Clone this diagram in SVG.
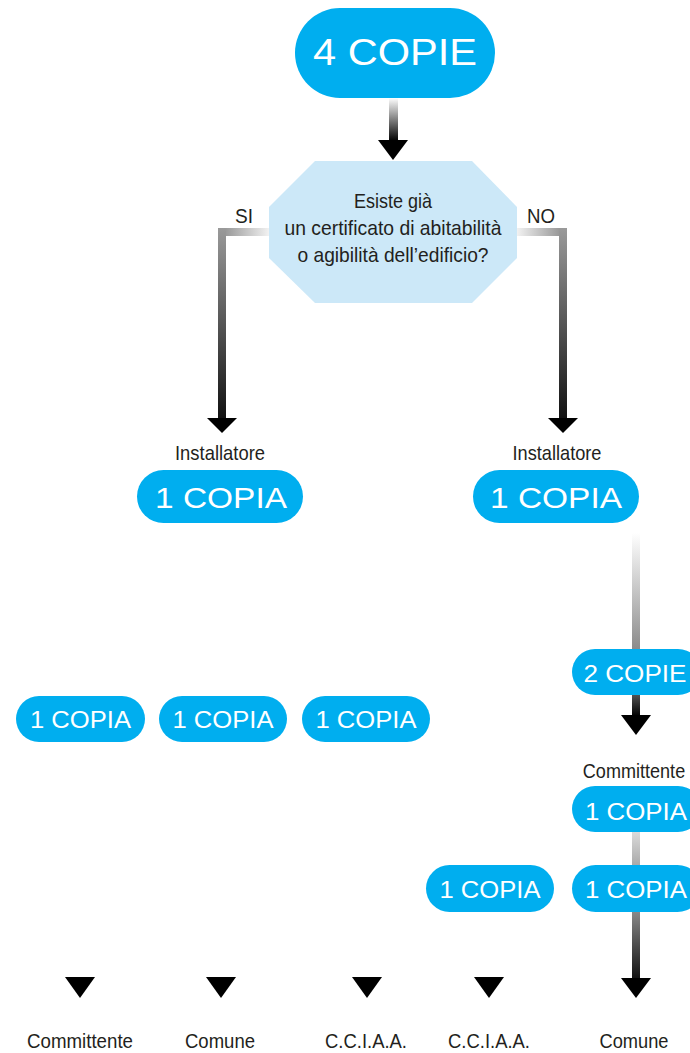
<svg xmlns="http://www.w3.org/2000/svg" width="690" height="1053" viewBox="0 0 690 1053">
<defs>
<style>
.pill{fill:#00aeef}
.pt{fill:#fff;font-family:"Liberation Sans",Arial,sans-serif;text-anchor:middle}
.lbl{fill:#231f20;font-family:"Liberation Sans",Arial,sans-serif;font-size:21px;text-anchor:middle}
.head{fill:#000}
</style>
<linearGradient id="gWB" x1="0" y1="0" x2="0" y2="1"><stop offset="0" stop-color="#fff"/><stop offset="1" stop-color="#000"/></linearGradient>
<linearGradient id="gGB" x1="0" y1="0" x2="0" y2="1"><stop offset="0" stop-color="#9a9a9a"/><stop offset="1" stop-color="#111"/></linearGradient>
<linearGradient id="gHL" x1="0" y1="0" x2="1" y2="0"><stop offset="0" stop-color="#9a9a9a"/><stop offset="1" stop-color="#f4f4f4"/></linearGradient>
<linearGradient id="gHR" x1="0" y1="0" x2="1" y2="0"><stop offset="0" stop-color="#f4f4f4"/><stop offset="1" stop-color="#9a9a9a"/></linearGradient>
<linearGradient id="gWG" x1="0" y1="0" x2="0" y2="1"><stop offset="0" stop-color="#fff"/><stop offset="1" stop-color="#8a8a8a"/></linearGradient>
<linearGradient id="gLG" x1="0" y1="0" x2="0" y2="1"><stop offset="0" stop-color="#dcdcdc"/><stop offset="1" stop-color="#a8a8a8"/></linearGradient>
<linearGradient id="gDB" x1="0" y1="0" x2="0" y2="1"><stop offset="0" stop-color="#555"/><stop offset="1" stop-color="#000"/></linearGradient>
<linearGradient id="gMB" x1="0" y1="0" x2="0" y2="1"><stop offset="0" stop-color="#8a8a8a"/><stop offset="1" stop-color="#111"/></linearGradient>
</defs>

<g id="connectors">
<rect x="389" y="98" width="9" height="43" fill="url(#gWB)"/>
<polygon class="head" points="378,140 408,140 393,160"/>
<rect x="226" y="228" width="44" height="8" fill="url(#gHL)"/>
<rect x="218" y="228" width="8" height="191" fill="url(#gGB)"/>
<polygon class="head" points="207,418 237,418 222,433"/>
<rect x="516" y="228" width="43" height="8" fill="url(#gHR)"/>
<rect x="559" y="228" width="8" height="191" fill="url(#gGB)"/>
<polygon class="head" points="548,418 578,418 563,433"/>
<rect x="632" y="533" width="8" height="117" fill="url(#gWG)"/>
<rect x="632" y="694" width="8" height="22" fill="url(#gDB)"/>
<polygon class="head" points="621,715 651,715 636,735"/>
<rect x="632" y="831" width="8" height="35" fill="url(#gLG)"/>
<rect x="632" y="911" width="8" height="68" fill="url(#gMB)"/>
<polygon class="head" points="621,978 651,978 636,998"/>
<polygon class="head" points="65,977 95,977 80,998"/>
<polygon class="head" points="206,977 236,977 221,998"/>
<polygon class="head" points="352,977 382,977 367,998"/>
<polygon class="head" points="474,977 504,977 489,998"/>
</g>

<g id="n-start">
<rect class="pill" x="295" y="8" width="200" height="90" rx="45"/>
<text class="pt" x="395" y="65" font-size="37" textLength="164" lengthAdjust="spacingAndGlyphs">4 COPIE</text>
</g>

<g id="n-question">
<polygon points="315,161 472,161 517,207 517,258 472,303 315,303 269,258 269,207" fill="#cce8f8"/>
<text class="lbl" x="393" y="208" textLength="78" lengthAdjust="spacingAndGlyphs">Esiste già</text>
<text class="lbl" x="393" y="235" textLength="217" lengthAdjust="spacingAndGlyphs">un certificato di abitabilità</text>
<text class="lbl" x="393" y="262" textLength="191" lengthAdjust="spacingAndGlyphs">o agibilità dell’edificio?</text>
</g>

<g id="lbl-si"><text class="lbl" x="244" y="223" textLength="18" lengthAdjust="spacingAndGlyphs">SI</text></g>
<g id="lbl-no"><text class="lbl" x="541" y="223" textLength="28" lengthAdjust="spacingAndGlyphs">NO</text></g>

<g id="n-inst-left">
<text class="lbl" x="220" y="460" textLength="90" lengthAdjust="spacingAndGlyphs">Installatore</text>
<rect class="pill" x="137" y="470" width="166" height="53" rx="26.5"/>
<text class="pt" x="221" y="508" font-size="29" textLength="132" lengthAdjust="spacingAndGlyphs">1 COPIA</text>
</g>

<g id="n-inst-right">
<text class="lbl" x="557" y="460" textLength="89" lengthAdjust="spacingAndGlyphs">Installatore</text>
<rect class="pill" x="473" y="470" width="166" height="53" rx="26.5"/>
<text class="pt" x="556" y="508" font-size="29" textLength="132" lengthAdjust="spacingAndGlyphs">1 COPIA</text>
</g>

<g id="n-left-1">
<rect class="pill" x="16" y="696" width="129" height="46" rx="23"/>
<text class="pt" x="80.5" y="728" font-size="23" textLength="101" lengthAdjust="spacingAndGlyphs">1 COPIA</text>
</g>
<g id="n-left-2">
<rect class="pill" x="159" y="696" width="128" height="46" rx="23"/>
<text class="pt" x="223" y="728" font-size="23" textLength="101" lengthAdjust="spacingAndGlyphs">1 COPIA</text>
</g>
<g id="n-left-3">
<rect class="pill" x="302" y="696" width="128" height="46" rx="23"/>
<text class="pt" x="366" y="728" font-size="23" textLength="101" lengthAdjust="spacingAndGlyphs">1 COPIA</text>
</g>

<g id="n-2copie">
<rect class="pill" x="572" y="649" width="129" height="46" rx="23"/>
<text class="pt" x="635" y="682" font-size="23" textLength="103" lengthAdjust="spacingAndGlyphs">2 COPIE</text>
</g>

<g id="n-committente-r">
<text class="lbl" transform="translate(634,778) scale(0.86,1)" x="0" y="0">Committente</text>
<rect class="pill" x="572" y="786" width="129" height="46" rx="23"/>
<text class="pt" x="636" y="820" font-size="23" textLength="102" lengthAdjust="spacingAndGlyphs">1 COPIA</text>
</g>

<g id="n-row-left">
<rect class="pill" x="426" y="865" width="128" height="47" rx="23.5"/>
<text class="pt" x="490" y="898" font-size="23" textLength="101" lengthAdjust="spacingAndGlyphs">1 COPIA</text>
</g>
<g id="n-row-right">
<rect class="pill" x="572" y="865" width="129" height="47" rx="23.5"/>
<text class="pt" x="636" y="898" font-size="23" textLength="102" lengthAdjust="spacingAndGlyphs">1 COPIA</text>
</g>

<g id="dest-1"><text class="lbl" x="80" y="1048" textLength="106" lengthAdjust="spacingAndGlyphs">Committente</text></g>
<g id="dest-2"><text class="lbl" x="220" y="1048" textLength="70" lengthAdjust="spacingAndGlyphs">Comune</text></g>
<g id="dest-3"><text class="lbl" x="366" y="1048" textLength="82" lengthAdjust="spacingAndGlyphs">C.C.I.A.A.</text></g>
<g id="dest-4"><text class="lbl" x="489" y="1048" textLength="82" lengthAdjust="spacingAndGlyphs">C.C.I.A.A.</text></g>
<g id="dest-5"><text class="lbl" x="634" y="1048" textLength="69" lengthAdjust="spacingAndGlyphs">Comune</text></g>
</svg>
